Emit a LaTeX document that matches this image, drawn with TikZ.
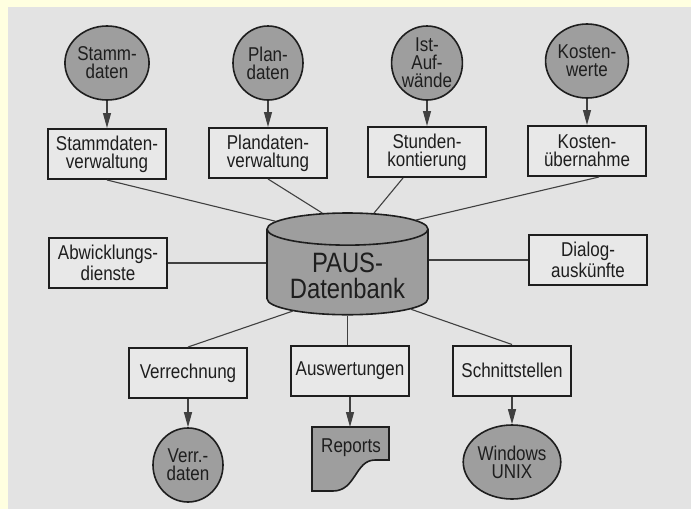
\documentclass[tikz,border=0pt]{standalone}
\usepackage{fontspec}
\setmainfont{Liberation Sans}[FakeStretch=0.85]
\usetikzlibrary{shapes.geometric,arrows.meta}
\definecolor{paper}{HTML}{FFFFE0}
\definecolor{panel}{HTML}{E3E3E3}
\definecolor{boxfill}{HTML}{E8E8E8}
\definecolor{blob}{HTML}{9E9E9E}
\definecolor{ink}{HTML}{1E1E1E}
\tikzset{
  px/.style={x=0.5pt,y=-0.5pt,font=\fontsize{10}{9}\selectfont,text=ink},
  proc/.style={draw=ink,line width=1pt,fill=boxfill,minimum width=59pt,minimum height=25pt,inner sep=1pt,align=center},
  store/.style={ellipse,draw=ink,line width=.8pt,fill=blob,minimum width=35pt,minimum height=37pt,inner sep=0pt,align=center},
  dbase/.style={cylinder,shape border rotate=90,aspect=0.25,draw=ink,line width=.8pt,fill=blob,minimum width=80.5pt,minimum height=43pt,align=center,font=\fontsize{14}{13}\selectfont},
  link/.style={draw=ink!85,line width=.55pt},
}

\begin{document}
\begin{tikzpicture}[px,>={Triangle[length=7.5pt,width=4pt]}]
  \fill[paper] (0,0) rectangle (691,509);
  \fill[panel] (8,7) rectangle (691,509);
  \useasboundingbox (0,0) rectangle (691,509);
  % data sources
  \node[store] (sd) at (107,63) {Stamm-\\daten};
  \node[store] (pd) at (268,63) {Plan-\\daten};
  \node[store] (ia) at (427,63) {Ist-\\Auf-\\wände};
  \node[store] (kw) at (587,61) {Kosten-\\werte};
  % upper processes
  \node[proc] (sv) at (107,154) {Stammdaten-\\verwaltung};
  \node[proc] (pv) at (268,153) {Plandaten-\\verwaltung};
  \node[proc] (sk) at (427,152) {Stunden-\\kontierung};
  \node[proc] (ku) at (587,151) {Kosten-\\übernahme};
  % centre
  \node[dbase] (db) at (347.5,275.5) {PAUS-\\Datenbank};
  \node[proc] (aw) at (108,263) {Abwicklungs-\\dienste};
  \node[proc] (dl) at (588,260) {Dialog-\\auskünfte};
  % lower processes
  \node[proc] (vr) at (188,373) {Verrechnung};
  \node[proc] (au) at (350,371) {Auswertungen};
  \node[proc] (sn) at (512,370.5) {Schnittstellen};
  % outputs
  \node[store] (vd) at (188,465) {Verr.-\\daten};
  \node[store] (win) at (512,462) {Windows\\UNIX};
  \filldraw[fill=blob,draw=ink,line width=.8pt] (312,427) -- (389,427) -- (389,460) -- (375,460)
    .. controls (355,460) and (356,491) .. (333,491) -- (312,491) -- cycle;
  \node (rep) at (351,448) {Reports};
  \coordinate (rt) at (350,427);
  % connectors
  \foreach \a/\b in {sd/sv,pd/pv,ia/sk,kw/ku,vr/vd,sn/win}{\draw[link,->] (\a) -- (\b);}
  \draw[link,->] (au) -- (rt);
  \draw[link] (sv.south) -- (db.143);
  \draw[link] (pv.south) -- (db.112);
  \draw[link] ([xshift=-12pt]sk.south) -- (db.67);
  \draw[link] ([xshift=6pt]ku.south) -- (db.39);
  \draw[link] (aw.east) -- (aw.east -| db.west);
  \draw[link] (dl.west -| db.east) -- (dl.west);
  \draw[link] (db.213) -- (vr.north);
  \draw[link] (db.south) -- (db.south |- au.north);
  \draw[link] (db.332) -- (sn.north);
\end{tikzpicture}
\end{document}
